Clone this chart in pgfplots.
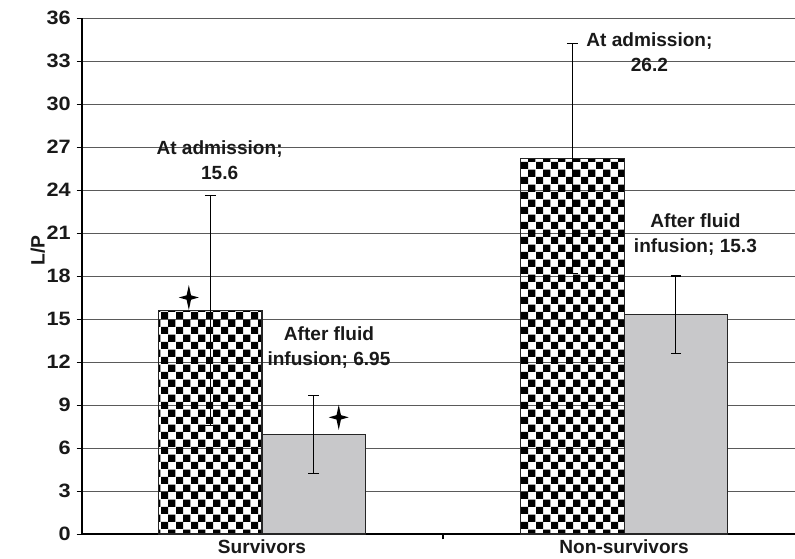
\documentclass[border=0pt]{standalone}
\usepackage{pgfplots}
\pgfplotsset{compat=1.18}
\usepackage{fontspec}
\setmainfont{Liberation Sans}
\newfontfamily\tickfont{Liberation Sans}[FakeStretch=1.12]
\usetikzlibrary{patterns}

\pgfdeclarepatternformonly{bigchecker}{\pgfqpoint{0pt}{0pt}}{\pgfqpoint{11pt}{11pt}}{\pgfqpoint{11pt}{11pt}}{%
  \pgfpathrectangle{\pgfqpoint{0pt}{0pt}}{\pgfqpoint{5.5pt}{5.5pt}}%
  \pgfpathrectangle{\pgfqpoint{5.5pt}{5.5pt}}{\pgfqpoint{5.5pt}{5.5pt}}%
  \pgfusepath{fill}}

\pgfdeclareplotmark{star4}{%
  \pgfpathmoveto{\pgfqpoint{0pt}{1.25\pgfplotmarksize}}%
  \pgfpathlineto{\pgfqpoint{0.22\pgfplotmarksize}{0.22\pgfplotmarksize}}%
  \pgfpathlineto{\pgfqpoint{\pgfplotmarksize}{0pt}}%
  \pgfpathlineto{\pgfqpoint{0.22\pgfplotmarksize}{-0.22\pgfplotmarksize}}%
  \pgfpathlineto{\pgfqpoint{0pt}{-1.25\pgfplotmarksize}}%
  \pgfpathlineto{\pgfqpoint{-0.22\pgfplotmarksize}{-0.22\pgfplotmarksize}}%
  \pgfpathlineto{\pgfqpoint{-\pgfplotmarksize}{0pt}}%
  \pgfpathlineto{\pgfqpoint{-0.22\pgfplotmarksize}{0.22\pgfplotmarksize}}%
  \pgfpathclose
  \pgfusepathqfill}

\definecolor{barGray}{RGB}{200,200,202}
\definecolor{gridGray}{RGB}{90,90,90}

\begin{document}
\begin{tikzpicture}
\begin{axis}[
  name=ax, at={(0,0)}, anchor=south west,
  scale only axis, width=534.75pt, height=387pt,
  xmin=-0.497, xmax=1.472, ymin=0, ymax=36,
  axis x line*=bottom, axis y line*=left,
  axis line style={black, line width=0.8pt},
  ytick={0,3,...,36},
  ymajorgrids, grid style={gridGray, line width=0.7pt},
  tick align=outside, major tick length=4pt,
  ytick pos=left,
  xtick={0,1}, xticklabels={Survivors,Non-survivors},
  xtick style={draw=none},
  extra x ticks={0.5}, extra x tick labels={},
  extra x tick style={xtick style={draw=black, line width=0.8pt}, grid=none},
  ytick style={black, line width=0.7pt},
  yticklabel style={font=\tickfont\fontsize{14.5}{16}\selectfont\bfseries, text=black!90, xshift=-1pt},
  xticklabel style={font=\fontsize{14.3}{16}\selectfont\bfseries, text=black!90, yshift=3pt},
  /pgf/number format/assume math mode=true,
  ylabel={L/P},
  ylabel style={font=\fontsize{14.5}{16}\selectfont\bfseries, text=black!90, at={(axis description cs:-0.062,0.55)}, anchor=center, rotate=0},
  clip=false,
]
\addplot[ybar, bar width=0.286, bar shift=0pt, draw=black!85, line width=0.8pt,
  pattern=bigchecker, pattern color=black,
  error bars/.cd, y dir=both, y explicit,
  error bar style={black, line width=0.8pt},
  error mark options={rotate=90, black, mark size=4pt, line width=0.8pt}]
  coordinates {(-0.143,15.6) +- (0,8.0) (0.857,26.2) +- (0,8.0)};
\addplot[ybar, bar width=0.286, bar shift=0pt, draw=black!85, line width=0.8pt,
  fill=barGray,
  error bars/.cd, y dir=both, y explicit,
  error bar style={black, line width=0.8pt},
  error mark options={rotate=90, black, mark size=4pt, line width=0.8pt}]
  coordinates {(0.143,6.95) +- (0,2.7) (1.143,15.3) +- (0,2.7)};
\addplot[only marks, mark=star4, mark size=7.5pt, black] coordinates {(-0.202,16.5) (0.212,8.14)};
\begin{scope}[every node/.style={font=\fontsize{14.3}{18.7}\selectfont\bfseries, text=black!90, align=center}]
\node at (axis cs:-0.117,26.06) {At admission;\\15.6};
\node at (axis cs:0.185,12.98) {After fluid\\infusion; 6.95};
\node at (axis cs:1.070,33.6) {At admission;\\26.2};
\node at (axis cs:1.197,20.9) {After fluid\\infusion; 15.3};
\end{scope}
\end{axis}
\pgfresetboundingbox
\path[use as bounding box] (-61.5pt,-18pt) rectangle (534.75pt,400.5pt);
\end{tikzpicture}
\end{document}
